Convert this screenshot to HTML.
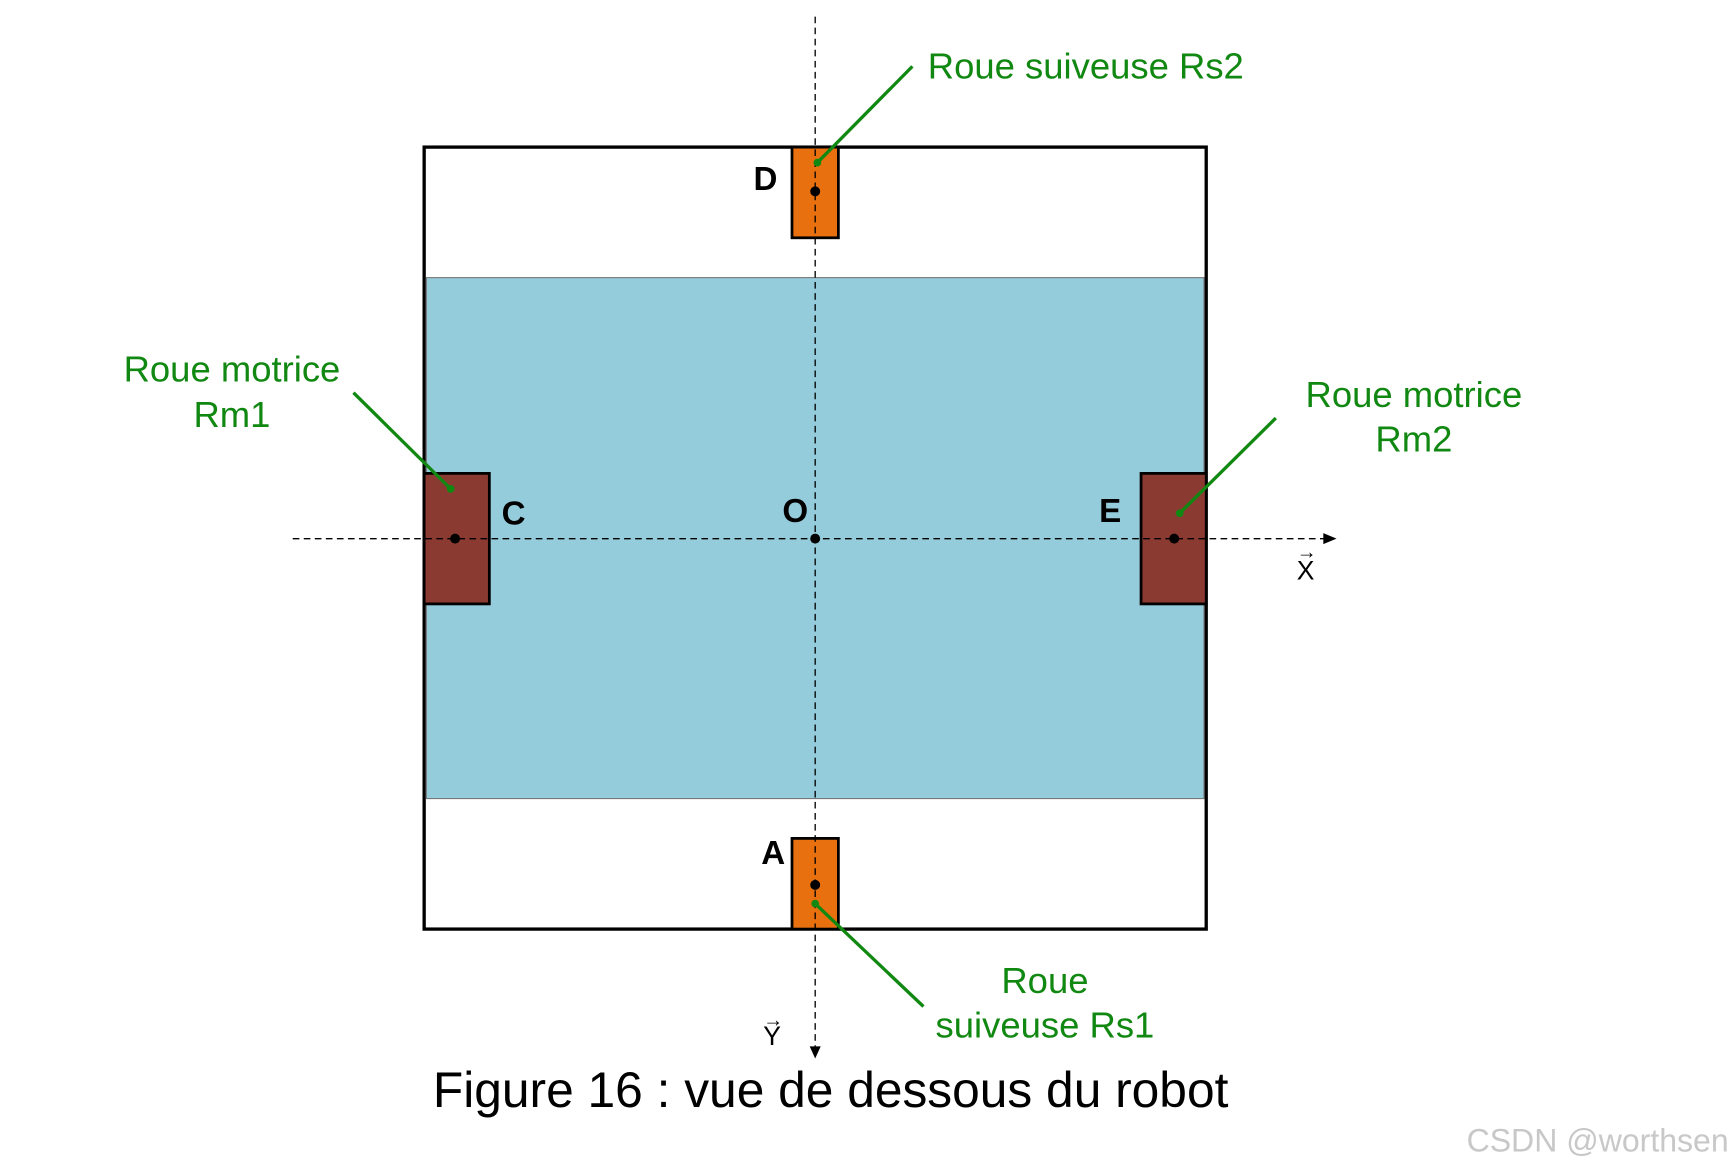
<!DOCTYPE html>
<html><head><style>html,body{margin:0;padding:0;background:#fff}svg{display:block}</style></head>
<body>
<svg width="1732" height="1168" viewBox="0 0 1568 1056" preserveAspectRatio="none" xmlns="http://www.w3.org/2000/svg" font-family="Liberation Sans, sans-serif">
<rect x="384" y="133" width="708" height="707" fill="#fff" stroke="#000" stroke-width="3"/>
<rect x="386" y="251" width="704" height="471" fill="#94CCDB" stroke="#777" stroke-width="1"/>
<rect x="717" y="133" width="42" height="82" fill="#E8700F" stroke="#000" stroke-width="2.5"/>
<rect x="717" y="758" width="42" height="82" fill="#E8700F" stroke="#000" stroke-width="2.5"/>
<rect x="384" y="428" width="59" height="118" fill="#8B3A32" stroke="#000" stroke-width="2.5"/>
<rect x="1033" y="428" width="59" height="118" fill="#8B3A32" stroke="#000" stroke-width="2.5"/>
<line x1="738" y1="15" x2="738" y2="948" stroke="#000" stroke-width="1.2" stroke-dasharray="6,4"/>
<polygon points="733,946 743,946 738,957" fill="#000"/>
<line x1="265" y1="487" x2="1200" y2="487" stroke="#000" stroke-width="1.2" stroke-dasharray="6,4"/>
<polygon points="1198,482 1198,492 1210,487" fill="#000"/>
<g fill="#000"><circle cx="738" cy="173" r="4.5"/><circle cx="738" cy="800" r="4.5"/><circle cx="412" cy="487" r="4.5"/><circle cx="1063" cy="487" r="4.5"/><circle cx="738" cy="487" r="4.5"/></g>
<g stroke="#118811" stroke-width="3" fill="#118811">
<line x1="826" y1="60" x2="740" y2="147"/><circle cx="740" cy="147" r="3.5" stroke="none"/>
<line x1="320" y1="355" x2="408" y2="442"/><circle cx="408" cy="442" r="3.5" stroke="none"/>
<line x1="1155" y1="378" x2="1068" y2="464"/><circle cx="1068" cy="464" r="3.5" stroke="none"/>
<line x1="738" y1="817" x2="836" y2="910"/><circle cx="738" cy="817" r="3.5" stroke="none"/>
</g>
<g font-weight="bold" font-size="30" fill="#000">
<text x="693" y="172" text-anchor="middle">D</text>
<text x="465" y="474" text-anchor="middle">C</text>
<text x="720" y="472" text-anchor="middle">O</text>
<text x="1005" y="472" text-anchor="middle">E</text>
<text x="700" y="781" text-anchor="middle">A</text>
</g>
<g font-size="33" fill="#118811" text-anchor="middle">
<text x="983" y="71">Roue suiveuse Rs2</text>
<text x="210" y="345">Roue motrice</text>
<text x="210" y="386">Rm1</text>
<text x="1280" y="368">Roue motrice</text>
<text x="1280" y="408">Rm2</text>
<text x="946" y="898">Roue</text>
<text x="946" y="938">suiveuse Rs1</text>
</g>
<g font-size="24" fill="#000" text-anchor="middle">
<text x="1182" y="524">X</text><text x="1183" y="505" font-size="18">→</text>
<text x="699" y="945">Y</text><text x="700" y="928" font-size="18">→</text>
</g>
<text x="752" y="1001" font-size="45" text-anchor="middle" fill="#000">Figure 16 : vue de dessous du robot</text>
<text x="1565" y="1041" font-size="29" text-anchor="end" fill="#c8c8c8">CSDN @worthsen</text>
</svg>
</body></html>
